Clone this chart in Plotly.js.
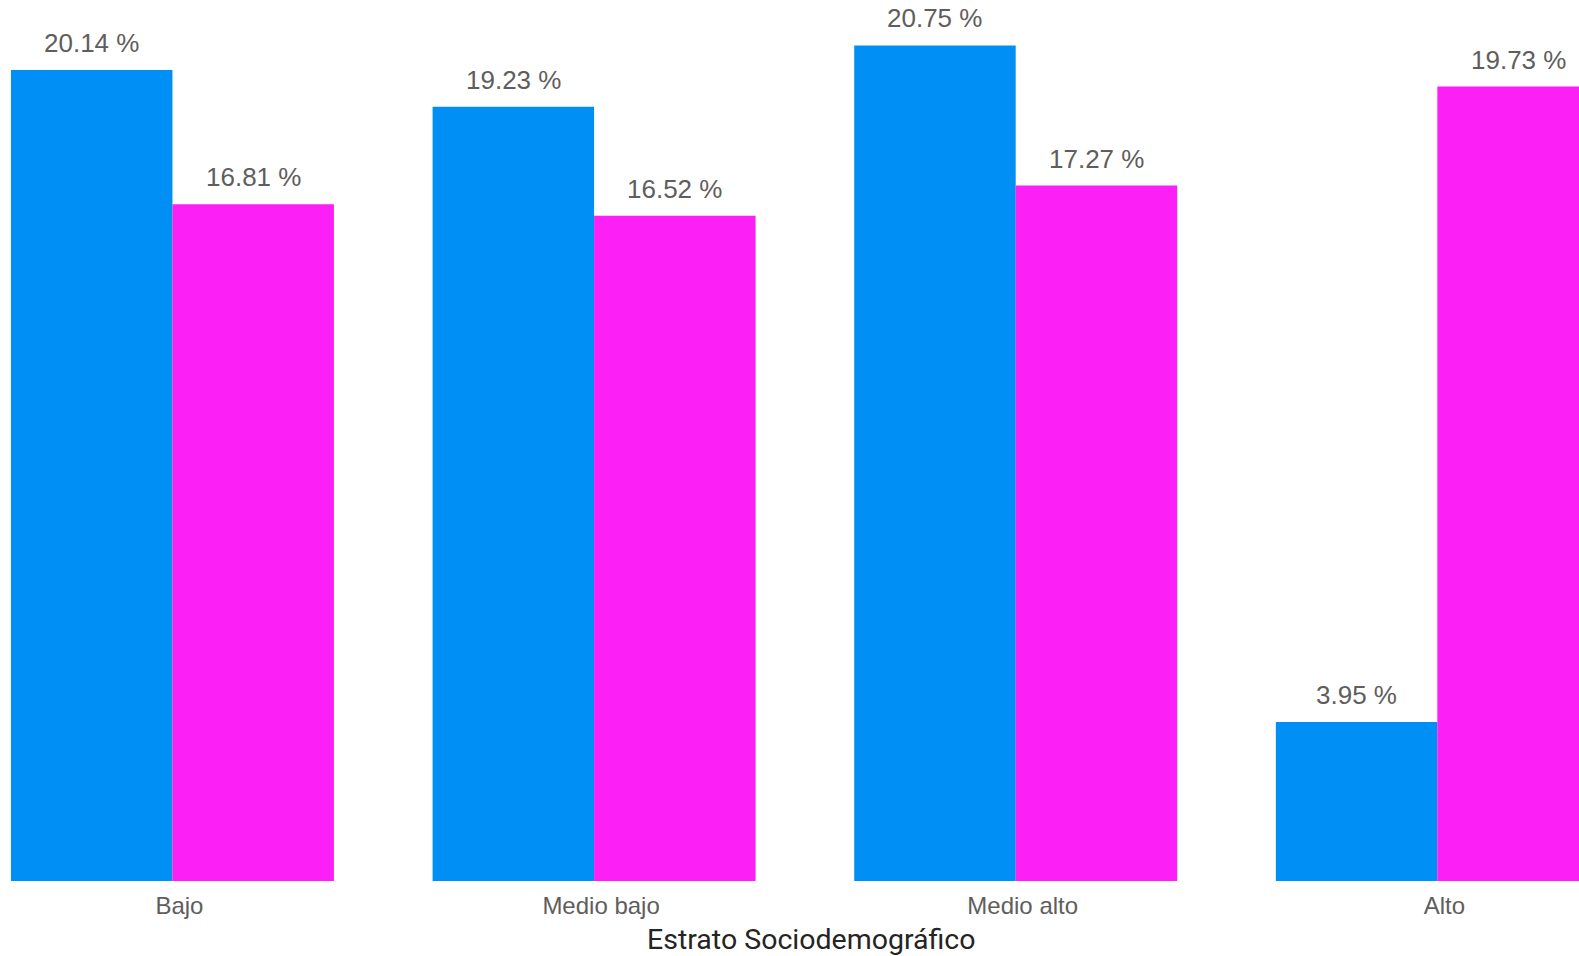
<!DOCTYPE html>
<html>
<head>
<meta charset="utf-8">
<script src="https://cdn.plot.ly/plotly-3.0.1.min.js"></script>
<style>html,body{margin:0;padding:0;overflow:hidden;background:#fff}#chart{width:1579px;height:956px}</style>
</head>
<body>
<div id="chart"></div>
<script>
const categories = ["Bajo", "Medio bajo", "Medio alto", "Alto"];
const seriesA = [20.14, 19.23, 20.75, 3.95];
const seriesB = [16.81, 16.52, 17.27, 19.73];
const axisTitle = "Estrato Sociodemográfico";

const fmt = v => v.toFixed(2) + " %";
const labelFont = {family: "Liberation Sans, Arial, sans-serif", size: 26, color: "#605E5C"};

const traces = [
  {type: "bar", x: categories, y: seriesA, marker: {color: "#008FF5"}, hoverinfo: "none"},
  {type: "bar", x: categories, y: seriesB, marker: {color: "#FC1FF6"}, hoverinfo: "none"}
];

const barHalf = 80.75;
const labelAnns = [];
[[seriesA, -barHalf], [seriesB, barHalf]].forEach(([vals, dx]) => {
  vals.forEach((v, i) => {
    labelAnns.push({x: categories[i], y: v, xref: "x", yref: "y", text: fmt(v),
      showarrow: false, xanchor: "center", yanchor: "bottom", xshift: dx, yshift: 10,
      font: labelFont});
  });
});

const layout = {
  width: 1579, height: 956,
  margin: {l: 0, r: 0, t: 0, b: 75},
  paper_bgcolor: "#fff", plot_bgcolor: "#fff",
  showlegend: false,
  barmode: "group", bargap: 0.234, bargroupgap: 0,
  xaxis: {range: [-0.409, 3.336], showgrid: false, zeroline: false, showline: false,
          ticks: "", ticklabelshift: 7, ticklabelstandoff: 8,
          tickfont: {family: "Liberation Sans, Arial, sans-serif", size: 24, color: "#605E5C"}},
  yaxis: {range: [0, 21.88], visible: false},
  annotations: labelAnns.concat([{text: axisTitle, xref: "paper", yref: "paper", x: 811.5/1579, y: -(939-881)/881,
                 xanchor: "center", yanchor: "middle", showarrow: false,
                 font: {family: "Roboto, sans-serif", size: 28.5, color: "#252423"}}])
};

Plotly.newPlot("chart", traces, layout, {staticPlot: true, displayModeBar: false});
</script>
</body>
</html>
